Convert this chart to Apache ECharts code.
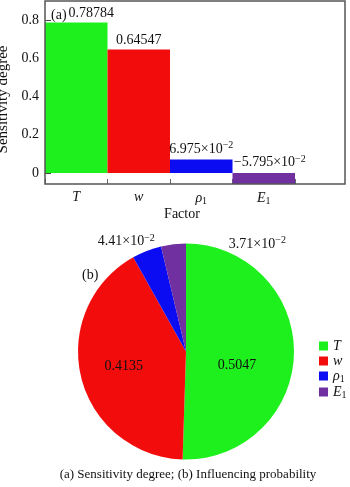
<!DOCTYPE html>
<html><head><meta charset="utf-8">
<script src="https://cdn.jsdelivr.net/npm/echarts@6/dist/echarts.min.js"></script>
<style>html,body{margin:0;padding:0;background:#fff}#c{width:350px;height:487px}</style>
</head><body><div id="c"></div>
<script>
const factors = ['T', 'w', 'ρ1', 'E1'];
const sensitivity = [0.78784, 0.64547, 0.06975, -0.05795];
const probability = [0.5047, 0.4135, 0.0441, 0.0371];
const yTicks = [0, 0.2, 0.4, 0.6, 0.8];
const colors = ['#1ef01e', '#f20c0c', '#0c0cf2', '#7030a0'];

const FONT = "'Liberation Serif','Times New Roman',serif";
function nameRich(n) {
  if (n.length > 1) return '{i|' + n[0] + '}{sub|' + n.slice(1) + '}';
  return '{i|' + n + '}';
}
function valRich(v, bigDec, smallDec) {
  if (Math.abs(v) >= 0.1) return '{n|' + v.toFixed(bigDec) + '}';
  const m = v * 100;
  return '{n|' + (m < 0 ? '\u2212' : '') + Math.abs(m).toFixed(smallDec) + '×10}{sup|\u22122}';
}
const txtRich = {
  i: {fontFamily: FONT, fontStyle: 'italic', fontSize: 14, color: '#111'},
  sub: {fontFamily: FONT, fontSize: 10, color: '#111', verticalAlign: 'bottom', padding: [6, 0, 0, 0]},
  n: {fontFamily: FONT, fontSize: 14, color: '#111'},
  sup: {fontFamily: FONT, fontSize: 10, color: '#111', padding: [0, 0, 7, 0]}
};
const barLabelShift = [[15, 0], [0, 0], [0, 0], [6, 0]];

const chart = echarts.init(document.getElementById('c'));
chart.setOption({
  animation: false,
  textStyle: {fontFamily: FONT},
  title: [
    {text: '(a)', left: 46, top: 3, textStyle: {fontFamily: FONT, fontSize: 14, fontWeight: 'normal', color: '#111'}},
    {text: '(b)', left: 77, top: 263, textStyle: {fontFamily: FONT, fontSize: 14, fontWeight: 'normal', color: '#111'}},
    {text: '(a) Sensitivity degree; (b) Influencing probability', left: 183, textAlign: 'center', top: 463,
     textStyle: {fontFamily: FONT, fontSize: 13, fontWeight: 'normal', color: '#111'}}
  ],
  grid: {left: 45, top: 1, width: 250, height: 183, outerBoundsMode: 'none', containLabel: false},
  xAxis: {
    type: 'category', data: factors,
    axisLine: {show: false, onZero: false},
    axisTick: {show: true, inside: true, length: 5, lineStyle: {color: '#666'}},
    axisLabel: {margin: 6, interval: 0, formatter: nameRich, rich: txtRich},
    name: 'Factor', nameLocation: 'middle', nameGap: 22,
    nameTextStyle: {fontFamily: FONT, fontSize: 14, color: '#111', padding: [0, 0, 0, 24]}
  },
  yAxis: {
    type: 'value', min: -0.05795, max: 0.9,
    axisLine: {show: false},
    splitLine: {show: false},
    axisTick: {show: true, inside: true, length: 6, customValues: yTicks, lineStyle: {color: '#444'}},
    axisLabel: {customValues: yTicks, margin: 6, fontFamily: FONT, fontSize: 14, color: '#111',
      formatter: v => String(v)},
    name: 'Sensitivity degree', nameLocation: 'middle', nameGap: 27,
    nameTextStyle: {fontFamily: FONT, fontSize: 15, color: '#111', padding: [0, 14, 0, 0]}
  },
  legend: {
    data: factors, orient: 'vertical', left: 314, top: 334, icon: 'rect',
    itemWidth: 9, itemHeight: 9, itemGap: 1,
    formatter: nameRich, textStyle: {rich: txtRich}
  },
  graphic: [{
    type: 'rect', shape: {x: 45, y: 1, width: 300, height: 183}, z: 100,
    style: {fill: 'none', stroke: '#555', lineWidth: 1.5}
  }],
  series: [{
    type: 'bar', name: 'sensitivity', barWidth: '100%',
    data: sensitivity.map((v, i) => ({value: v, itemStyle: {color: colors[i]},
      label: {offset: barLabelShift[i]}})),
    label: {show: true, position: 'top', distance: 2, formatter: p => valRich(p.value, 5, 3), rich: txtRich}
  }, {
    type: 'pie', name: 'probability', center: [186, 351.5], radius: 108, startAngle: 90, clockwise: true,
    avoidLabelOverlap: false,
    data: factors.map((n, i) => ({name: n, value: probability[i], itemStyle: {color: colors[i]}})),
    label: {show: true, position: 'inside', formatter: p => valRich(p.value, 4, 2), rich: txtRich},
    labelLine: {show: false},
    labelLayout: function (params) {
      const d = [[-6, 13], [-7, 1], [-39, -57], [78, -51]][params.dataIndex];
      return {dx: d[0], dy: d[1]};
    }
  }]
});
</script></body></html>
